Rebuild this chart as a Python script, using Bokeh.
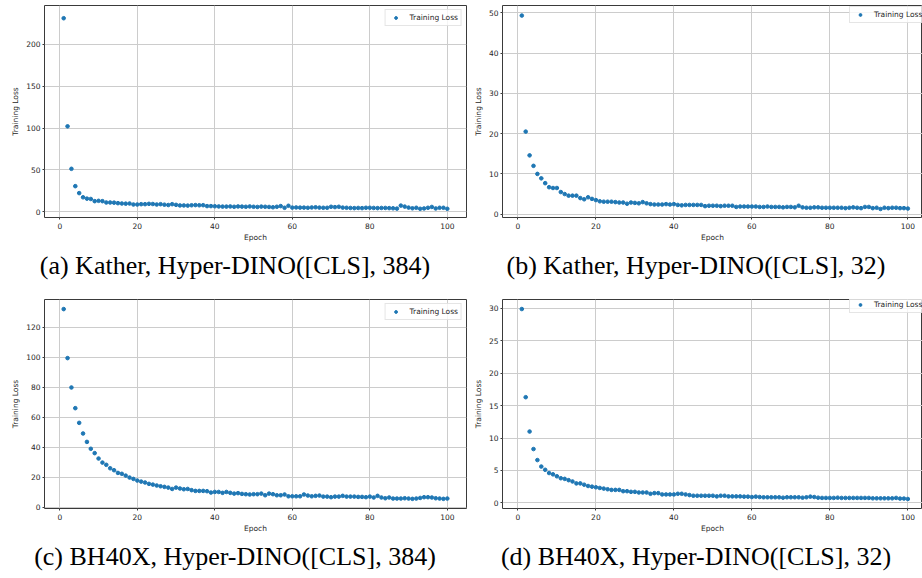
from bokeh.plotting import figure
from bokeh.layouts import column, row
from bokeh.models import Range1d, FixedTicker, Legend, LegendItem, Div, ColumnDataSource
from bokeh.embed import file_html
from bokeh.resources import INLINE

epochs = list(range(1, 101))

loss_a = [231.0, 102.0, 51.3, 30.6, 22.3, 17.3, 15.7, 15.3, 12.7, 13.1,
          12.7, 11.1, 11.1, 10.9, 10.3, 9.9, 9.7, 9.9, 8.7, 8.7,
          9.1, 9.1, 9.5, 9.3, 8.7, 9.1, 8.5, 8.1, 9.1, 8.3,
          7.6, 7.6, 7.4, 7.8, 8.0, 7.8, 7.9, 6.8, 6.8, 6.6,
          6.4, 6.2, 6.2, 6.4, 6.0, 6.4, 6.2, 6.0, 6.4, 6.0,
          5.8, 6.2, 6.0, 5.8, 5.4, 6.0, 6.8, 4.8, 7.2, 5.0,
          5.2, 5.0, 5.0, 4.8, 5.2, 5.4, 5.0, 4.8, 4.8, 6.0,
          5.6, 6.0, 5.0, 4.8, 4.6, 4.4, 4.6, 4.4, 4.8, 4.8,
          4.6, 4.4, 4.6, 4.6, 4.4, 4.2, 3.8, 7.4, 6.2, 5.0,
          4.2, 4.8, 3.6, 4.0, 4.8, 5.8, 4.0, 4.8, 4.8, 3.6]

loss_b = [49.3, 20.5, 14.6, 12.0, 10.0, 8.9, 7.7, 6.7, 6.5, 6.5,
          5.5, 5.0, 4.6, 4.6, 4.6, 4.0, 3.7, 4.2, 3.8, 3.5,
          3.2, 3.1, 3.1, 3.1, 3.0, 2.9, 2.9, 2.6, 2.9, 2.8,
          2.7, 3.0, 2.7, 2.5, 2.4, 2.4, 2.4, 2.5, 2.4, 2.5,
          2.3, 2.2, 2.3, 2.3, 2.3, 2.3, 2.3, 2.0, 2.1, 2.1,
          2.1, 2.0, 2.1, 2.1, 2.1, 1.8, 1.9, 1.9, 1.9, 1.9,
          1.9, 1.8, 1.8, 1.9, 1.8, 1.8, 1.8, 1.7, 1.8, 1.8,
          1.7, 2.1, 1.7, 1.6, 1.6, 1.7, 1.7, 1.6, 1.6, 1.6,
          1.6, 1.6, 1.6, 1.5, 1.6, 1.7, 1.6, 1.5, 1.8, 1.8,
          1.5, 1.6, 1.3, 1.6, 1.5, 1.6, 1.6, 1.5, 1.5, 1.4]

loss_c = [132.2, 99.5, 79.9, 66.1, 56.3, 49.2, 43.6, 39.0, 36.1, 32.5,
          29.8, 28.3, 26.0, 24.7, 22.9, 22.3, 21.1, 19.8, 18.9, 17.8,
          17.1, 16.5, 15.6, 15.1, 14.5, 14.0, 13.6, 13.1, 12.2, 13.1,
          12.5, 12.0, 12.2, 11.4, 10.9, 10.9, 10.9, 10.7, 9.8, 10.2,
          10.2, 9.6, 10.2, 9.6, 9.1, 9.4, 8.9, 8.7, 8.5, 8.7,
          8.7, 9.1, 8.0, 9.1, 8.7, 8.0, 8.0, 8.5, 7.3, 7.3,
          7.3, 7.3, 8.5, 7.8, 7.3, 7.6, 7.8, 7.1, 7.1, 6.7,
          7.1, 7.1, 7.6, 7.1, 7.1, 7.1, 6.9, 6.9, 6.7, 7.1,
          6.5, 7.6, 6.5, 6.0, 6.5, 5.8, 5.8, 5.8, 6.0, 5.8,
          5.6, 5.8, 6.2, 6.7, 6.7, 6.5, 6.0, 5.8, 5.6, 5.8]

loss_d = [29.9, 16.3, 11.0, 8.3, 6.6, 5.6, 5.1, 4.6, 4.4, 4.1,
          3.8, 3.7, 3.5, 3.3, 3.0, 3.0, 2.8, 2.6, 2.5, 2.4,
          2.3, 2.2, 2.1, 2.0, 2.0, 2.0, 1.8, 1.8, 1.7, 1.7,
          1.6, 1.6, 1.6, 1.4, 1.5, 1.5, 1.3, 1.3, 1.3, 1.3,
          1.4, 1.4, 1.3, 1.2, 1.1, 1.1, 1.1, 1.1, 1.1, 1.1,
          1.0, 1.1, 1.1, 1.0, 1.0, 1.0, 1.0, 0.96, 0.96, 0.9,
          0.96, 0.9, 0.86, 0.86, 0.86, 0.86, 0.86, 0.8, 0.86, 0.86,
          0.86, 0.86, 0.8, 0.86, 0.96, 0.9, 0.8, 0.76, 0.76, 0.76,
          0.76, 0.8, 0.76, 0.76, 0.76, 0.76, 0.76, 0.76, 0.76, 0.76,
          0.7, 0.7, 0.7, 0.7, 0.7, 0.7, 0.76, 0.66, 0.66, 0.6]

x_ticks = [0, 20, 40, 60, 80, 100]
y_ticks_a = [0, 50, 100, 150, 200]
y_ticks_b = [0, 10, 20, 30, 40, 50]
y_ticks_c = [0, 20, 40, 60, 80, 100, 120]
y_ticks_d = [0, 5, 10, 15, 20, 25, 30]

captions = ["(a) Kather, Hyper-DINO([CLS], 384)",
            "(b) Kather, Hyper-DINO([CLS], 32)",
            "(c) BH40X, Hyper-DINO([CLS], 384)",
            "(d) BH40X, Hyper-DINO([CLS], 32)"]

FONT = "DejaVu Sans"
TXT = "#262626"


def make_fig(yvals, width, height, bl, br, bt, bb, xr, yr, yticks, legend_loc):
    p = figure(width=width, height=height, output_backend="svg", toolbar_location=None,
               x_range=Range1d(*xr), y_range=Range1d(*yr),
               min_border_left=bl, min_border_right=br, min_border_top=bt, min_border_bottom=bb)
    p.background_fill_color = "white"
    p.border_fill_color = "white"
    p.outline_line_color = "#3a3a3a"
    p.outline_line_width = 1
    src = ColumnDataSource(dict(x=epochs, y=yvals))
    r = p.scatter(x="x", y="y", source=src, size=3.6, fill_color="#1f77b4", line_color="#1f77b4")
    p.xaxis.ticker = FixedTicker(ticks=x_ticks)
    p.yaxis.ticker = FixedTicker(ticks=yticks)
    p.xaxis.axis_label = "Epoch"
    p.yaxis.axis_label = "Training Loss"
    for ax in (p.xaxis, p.yaxis):
        ax.axis_line_color = None
        ax.major_tick_line_color = "#3a3a3a"
        ax.major_tick_out = 2
        ax.major_tick_in = 0
        ax.minor_tick_line_color = None
        ax.major_label_text_font = FONT
        ax.major_label_text_font_size = "7.5px"
        ax.major_label_text_color = TXT
        ax.axis_label_text_font = FONT
        ax.axis_label_text_font_size = "7.5px"
        ax.axis_label_text_font_style = "normal"
        ax.axis_label_text_color = TXT
    p.xaxis.major_label_standoff = 3
    p.xaxis.axis_label_standoff = 1
    p.yaxis.major_label_standoff = 2
    p.yaxis.axis_label_standoff = 3
    p.grid.grid_line_color = "#cccccc"
    p.grid.grid_line_width = 1
    legend = Legend(items=[LegendItem(label="Training Loss", renderers=[r])],
                    location=legend_loc, margin=4, padding=3, spacing=0,
                    glyph_width=14, glyph_height=7, label_height=7, label_standoff=7,
                    label_text_font=FONT, label_text_font_size="7.5px", label_text_color=TXT,
                    border_line_color="#cccccc", border_line_width=1,
                    background_fill_color="white", background_fill_alpha=0.8)
    p.add_layout(legend)
    return p


fa = make_fig(loss_a, 470, 245, 44, 4, 5, 28, (-3.95, 104.95), (-6.8, 246.2), y_ticks_a, "top_right")
fb = make_fig(loss_b, 452, 245, 30, 0, 5, 28, (-3.95, 103.76), (-0.82, 51.8), y_ticks_b, (347, 194))
fc = make_fig(loss_c, 470, 251, 44, 4, 14, 28, (-3.95, 104.95), (-0.84, 138.6), y_ticks_c, "top_right")
fd = make_fig(loss_d, 452, 251, 30, 0, 12, 28, (-3.95, 103.76), (-0.87, 31.37), y_ticks_d, (347, 195))


def cap(text, width, height, lh):
    html = ('<div style="font-family:\'Liberation Serif\',serif;font-size:26px;color:#000;'
            'text-align:center;width:%dpx;line-height:%dpx;white-space:nowrap;">%s</div>'
            % (width, lh, text))
    return Div(text=html, width=width, height=height, margin=0)


cap_row1 = row(cap(captions[0], 470, 40, 42), cap(captions[1], 452, 40, 42), spacing=0)
cap_row2 = row(cap(captions[2], 470, 42, 42), cap(captions[3], 452, 42, 42), spacing=0)

layout = column(row(fa, fb, spacing=0), cap_row1, row(fc, fd, spacing=0), cap_row2, spacing=0)

open("out.html", "w").write(file_html(layout, INLINE))
